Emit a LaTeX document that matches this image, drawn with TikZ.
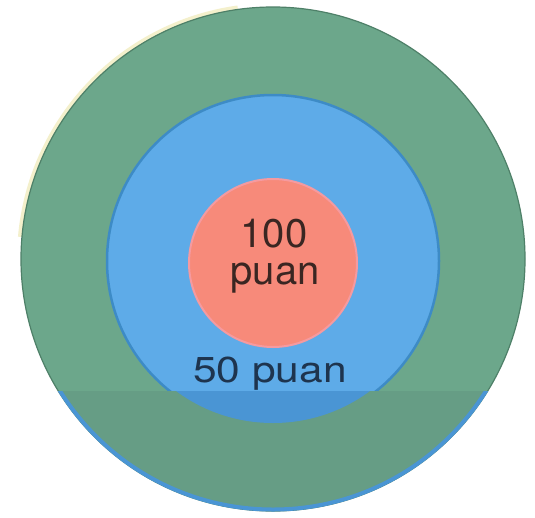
\documentclass[tikz,border=0pt]{standalone}
\usepackage{fontspec}
\setmainfont{TeX Gyre Heros}
\definecolor{ringgreen}{HTML}{6CA78B}
\definecolor{edgegreen}{HTML}{4E8068}
\definecolor{bandgreen}{HTML}{669D85}
\definecolor{ringblue}{HTML}{5EABE8}
\definecolor{edgeblue}{HTML}{3D8BC6}
\definecolor{segblue}{HTML}{4A95D4}
\definecolor{bullred}{HTML}{F78A7A}
\definecolor{bulledge}{HTML}{F59AA0}
\definecolor{halo}{HTML}{F4F0CC}
\definecolor{darktext}{HTML}{3A2622}
\definecolor{navytext}{HTML}{1E344E}
\tikzset{
  ring/.style={circle, inner sep=0pt},
  label100/.style={anchor=base, inner sep=0pt, text=darktext, font=\fontsize{40}{40}\selectfont},
  label50/.style={anchor=base, inner sep=0pt, text=navytext, font=\fontsize{36}{36}\selectfont}
}
\begin{document}
\begin{tikzpicture}[x=1pt,y=-1pt]
\useasboundingbox (0,0) rectangle (535,517);
\fill[white] (0,0) rectangle (535,517);
% faint yellow halo at the upper left
\draw[halo, line width=4pt] (273,259) ++(185:254) arc[start angle=185, end angle=262, radius=254];
% rings
\node[ring, fill=ringgreen, draw=edgegreen, line width=1.2pt, minimum size=504pt] (outer) at (273,259) {};
\node[ring, fill=ringblue, draw=edgeblue, line width=2.5pt, minimum size=332pt] (mid) at (273,261) {};
% flat lower band
\begin{scope}
  \clip (0,391) rectangle (535,517);
  \fill[bandgreen] (outer.center) circle[radius=252];
  \draw[segblue, line width=4pt] (outer.center) circle[radius=250.5];
  \fill[segblue] (273,260) circle[radius=163];
\end{scope}
\node[ring, fill=bullred, draw=bulledge, line width=2pt, minimum size=168pt] (bull) at (273,263) {};
% labels
\node[label100] (t100) at (274,247) {100};
\node[label100] (tpuan) at (275,284) {puan};
\node[label50] (t50) at (270,382) {\scalebox{1.18}[1]{50 puan}};
\end{tikzpicture}
\end{document}
